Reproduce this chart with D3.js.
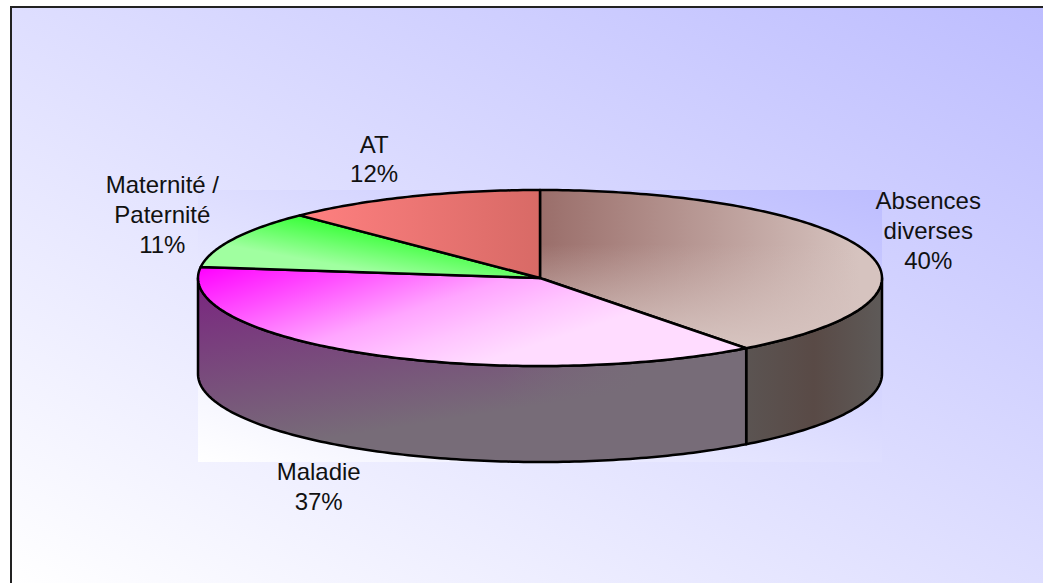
<!DOCTYPE html>
<html>
<head>
<meta charset="utf-8">
<script src="https://cdn.jsdelivr.net/npm/d3@7"></script>
<style>
html, body { margin: 0; padding: 0; background: #fff; overflow: hidden; }
svg { display: block; }
text { font-family: "Liberation Sans", Arial, sans-serif; font-size: 24px; fill: #111; }
</style>
</head>
<body>
<svg id="chart" width="1043" height="583"></svg>
<script>
// values, clockwise from 12 o'clock
const categories = ["Absences diverses", "Maladie", "Maternité / Paternité", "AT"];
const values = [39.7, 37.3, 10.6, 12.4];
const labelLines = [["Absences", "diverses"], ["Maladie"], ["Maternité /", "Paternité"], ["AT"]];

// layout
const width = 1043, height = 583;
const cx = 540, cy = 278, rx = 342, ry = 88, depth = 96;
const lineHeight = 29.7;
// label centre, relative to the point of the rim at the slice's mid angle
const labelOffsets = [[64, -18], [-50, 134], [-71, -23], [-36, -36]];

const svg = d3.select("#chart");
const defs = svg.append("defs");

function gradient(id, x1, y1, x2, y2, stops, units) {
    const g = defs.append("linearGradient")
        .attr("id", id)
        .attr("gradientUnits", units || "userSpaceOnUse")
        .attr("x1", x1).attr("y1", y1).attr("x2", x2).attr("y2", y2);
    stops.forEach(function (s) {
        g.append("stop")
            .attr("offset", s[0])
            .attr("stop-color", s[1])
            .attr("stop-opacity", s[2] === undefined ? 1 : s[2]);
    });
}

// corner to corner of the box, so the colour bands follow the other diagonal
gradient("panelBg", 0, 1, 1, 0, [[0, "#ffffff"], [1, "#bdbdff"]], "objectBoundingBox");

// slice tops
gradient("topAbs", 540, 0, 860, 0, [[0, "#9a6e6a"], [1, "#d6c3bf"]]);
gradient("topAbsOver", 0, 190, 0, 345, [[0, "#d6c3bf", 0], [0.35, "#d6c3bf", 0], [1, "#d6c3bf", 1]]);
gradient("topMal", 198, 268, 253, 437, [[0, "#ff00ff"], [0.3, "#ff50ff"], [0.6, "#ffa5ff"], [0.8, "#ffc4ff"], [1, "#ffdcff"]]);
gradient("topMat", 310, 215, 300, 270, [[0, "#33ff33"], [0.8, "#a0ffa0"], [1, "#a0ffa0"]]);
gradient("topAT", 300, 0, 540, 0, [[0, "#ff8080"], [1, "#d86a66"]]);
// slice sides
gradient("sideMal", 198, 285, 225, 455, [[0, "#7a2680"], [1, "#776c78"]]);
gradient("sideMalOver", 500, 0, 640, 0, [[0, "#776c78", 0], [1, "#776c78", 1]]);
gradient("sideAbs", 746, 0, 882, 0, [[0, "#5b5452"], [0.5, "#594a46"], [1, "#5e5a58"]]);

const topFill = ["url(#topAbs)", "url(#topMal)", "url(#topMat)", "url(#topAT)"];
const sideFill = ["url(#sideAbs)", "url(#sideMal)"];

svg.append("rect")
    .attr("x", 11).attr("y", 7)
    .attr("width", width - 11 + 2).attr("height", height - 7 + 2)
    .attr("fill", "url(#panelBg)")
    .attr("stroke", "#222")
    .attr("stroke-width", 2);

svg.append("rect")
    .attr("x", cx - rx).attr("y", cy - ry)
    .attr("width", 2 * rx).attr("height", 2 * ry + depth)
    .attr("fill", "url(#panelBg)");

const px = d3.scaleLinear().domain([-1, 1]).range([cx - rx, cx + rx]);
const py = d3.scaleLinear().domain([-1, 1]).range([cy - ry, cy + ry]);
const rim = function (a) { return [px(Math.sin(a)), py(-Math.cos(a))]; };
const line = d3.line();

function rimPoints(a0, a1) {
    const n = Math.max(2, Math.ceil((a1 - a0) * 60));
    return d3.range(n + 1).map(function (i) {
        return rim(a0 + (a1 - a0) * i / n);
    });
}

const slices = d3.pie().sort(null).value(function (d) { return d; })(values);

// front wall: only the part of the rim between 3 and 9 o'clock can be seen
slices.forEach(function (s, i) {
    const a0 = Math.max(s.startAngle, Math.PI / 2);
    const a1 = Math.min(s.endAngle, 3 * Math.PI / 2);
    if (a1 <= a0) return;
    const upper = rimPoints(a0, a1);
    const lower = upper.slice().reverse().map(function (p) { return [p[0], p[1] + depth]; });
    const d = line(upper.concat(lower)) + "Z";
    svg.append("path").attr("d", d).attr("fill", sideFill[i]);
    if (i === 1) svg.append("path").attr("d", d).attr("fill", "url(#sideMalOver)");
    svg.append("path").attr("d", d)
        .attr("fill", "none").attr("stroke", "#000")
        .attr("stroke-width", 2.5).attr("stroke-linejoin", "round");
});

// top face
slices.forEach(function (s, i) {
    const d = line([[cx, cy]].concat(rimPoints(s.startAngle, s.endAngle))) + "Z";
    svg.append("path").attr("d", d).attr("fill", topFill[i]);
    if (i === 0) svg.append("path").attr("d", d).attr("fill", "url(#topAbsOver)");
    svg.append("path").attr("d", d)
        .attr("fill", "none").attr("stroke", "#000")
        .attr("stroke-width", 2.5).attr("stroke-linejoin", "round");
});

// labels
slices.forEach(function (s, i) {
    const lines = labelLines[i].concat([Math.round(values[i]) + "%"]);
    const p = rim((s.startAngle + s.endAngle) / 2);
    const lx = p[0] + labelOffsets[i][0];
    const ly = p[1] + labelOffsets[i][1];
    const t = svg.append("text")
        .attr("text-anchor", "middle")
        .attr("aria-label", categories[i]);
    lines.forEach(function (l, k) {
        t.append("tspan")
            .attr("x", lx)
            .attr("y", ly + (k - (lines.length - 1) / 2) * lineHeight + 7)
            .text(l);
    });
});
</script>
</body>
</html>
